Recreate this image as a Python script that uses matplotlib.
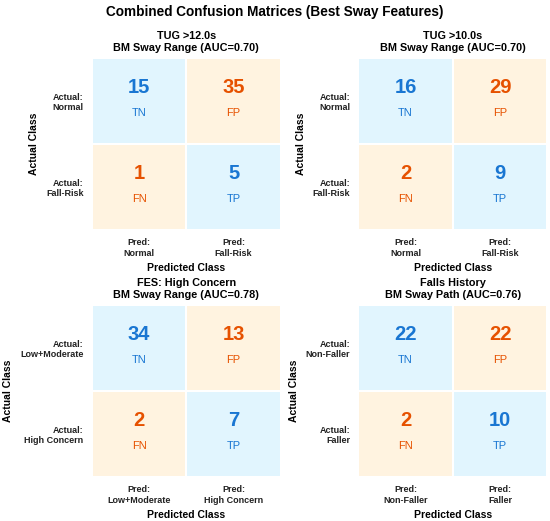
import numpy as np
import matplotlib
matplotlib.use('Agg')
import matplotlib.pyplot as plt
from matplotlib.colors import ListedColormap

plt.rcParams['font.family'] = ['Liberation Sans', 'DejaVu Sans']

# data: [[TN, FP], [FN, TP]] per panel
outcomes = ['TUG >12.0s', 'TUG >10.0s', 'FES: High Concern', 'Falls History']
features = ['BM Sway Range', 'BM Sway Range', 'BM Sway Range', 'BM Sway Path']
aucs = [0.70, 0.70, 0.78, 0.76]
matrices = [
    [[15, 35], [1, 5]],
    [[16, 29], [2, 9]],
    [[34, 13], [2, 7]],
    [[22, 22], [2, 10]],
]
neg_labels = ['Normal', 'Normal', 'Low+Moderate', 'Non-Faller']
pos_labels = ['Fall-Risk', 'Fall-Risk', 'High Concern', 'Faller']
cell_names = [['TN', 'FP'], ['FN', 'TP']]

blue_bg, orange_bg = '#E1F5FE', '#FFF3E0'
blue_fg, orange_fg = '#1976D2', '#E65100'

fig, axes = plt.subplots(2, 2, figsize=(5.5, 5.21), dpi=100)
fig.subplots_adjust(left=0.167, right=0.995, top=0.889, bottom=0.0845,
                    wspace=0.41, hspace=0.436)

# correct cells blue, wrong cells orange
kind = np.array([[0, 1], [1, 0]])
cmap = ListedColormap([blue_bg, orange_bg])

for i, ax in enumerate(axes.flat):
    cm = np.array(matrices[i])
    ax.pcolormesh(np.arange(3), np.arange(3), kind, cmap=cmap, vmin=0, vmax=1,
                  edgecolors='white', linewidth=1.2)
    ax.set_xlim(0, 2)
    ax.set_ylim(2, 0)
    for r in range(2):
        for c in range(2):
            col = blue_fg if kind[r, c] == 0 else orange_fg
            ax.text(c + 0.5, r + 0.34, str(cm[r, c]), ha='center', va='center',
                    fontsize=14.5, fontweight='bold', color=col)
            ax.text(c + 0.5, r + 0.64, cell_names[r][c], ha='center', va='center',
                    fontsize=8, color=col)
    ax.set_xticks([0.5, 1.5])
    ax.set_yticks([0.5, 1.5])
    ax.set_xticklabels(['Pred:\n' + neg_labels[i], 'Pred:\n' + pos_labels[i]],
                       fontsize=6.5, fontweight='bold', color='#222222')
    ax.set_yticklabels(['Actual:\n' + neg_labels[i], 'Actual:\n' + pos_labels[i]],
                       fontsize=6.5, fontweight='bold', color='#222222')
    ax.tick_params(length=0, pad=6)
    for s in ax.spines.values():
        s.set_visible(False)
    ax.set_xlabel('Predicted Class', fontsize=7.5, fontweight='bold', labelpad=4)
    ax.set_ylabel('Actual Class', fontsize=7.5, fontweight='bold', labelpad=5)
    ax.set_title(f'{outcomes[i]}\n{features[i]} (AUC={aucs[i]:.2f})',
                 fontsize=7.8, fontweight='bold', pad=5)

fig.suptitle('Combined Confusion Matrices (Best Sway Features)',
             fontsize=9.8, fontweight='bold', y=0.99)

fig.savefig('out.png', dpi=100)
